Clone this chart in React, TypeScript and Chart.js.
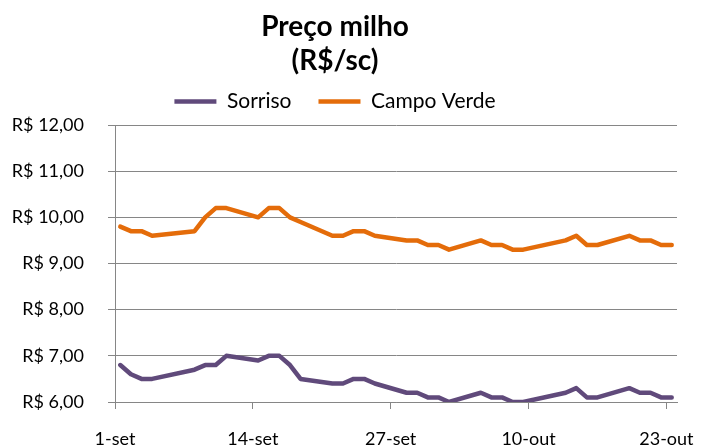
import React, { useEffect, useRef } from 'react';
import { Chart, registerables } from 'chart.js';

Chart.register(...registerables);

// ---- Data ----
const observationDates = [
  '2015-09-01', '2015-09-02', '2015-09-03', '2015-09-04',
  '2015-09-08', '2015-09-09', '2015-09-10', '2015-09-11',
  '2015-09-14', '2015-09-15', '2015-09-16', '2015-09-17', '2015-09-18',
  '2015-09-21', '2015-09-22', '2015-09-23', '2015-09-24', '2015-09-25',
  '2015-09-28', '2015-09-29', '2015-09-30', '2015-10-01', '2015-10-02',
  '2015-10-05', '2015-10-06', '2015-10-07', '2015-10-08', '2015-10-09',
  '2015-10-13', '2015-10-14', '2015-10-15', '2015-10-16',
  '2015-10-19', '2015-10-20', '2015-10-21', '2015-10-22', '2015-10-23',
];

const sorrisoValues = [
  6.8, 6.6, 6.5, 6.5,
  6.7, 6.8, 6.8, 7.0,
  6.9, 7.0, 7.0, 6.8, 6.5,
  6.4, 6.4, 6.5, 6.5, 6.4,
  6.2, 6.2, 6.1, 6.1, 6.0,
  6.2, 6.1, 6.1, 6.0, 6.0,
  6.2, 6.3, 6.1, 6.1,
  6.3, 6.2, 6.2, 6.1, 6.1,
];

const campoVerdeValues = [
  9.8, 9.7, 9.7, 9.6,
  9.7, 10.0, 10.2, 10.2,
  10.0, 10.2, 10.2, 10.0, 9.9,
  9.6, 9.6, 9.7, 9.7, 9.6,
  9.5, 9.5, 9.4, 9.4, 9.3,
  9.5, 9.4, 9.4, 9.3, 9.3,
  9.5, 9.6, 9.4, 9.4,
  9.6, 9.5, 9.5, 9.4, 9.4,
];

const seriesNames = ['Sorriso', 'Campo Verde'];
const axisStartDate = '2015-09-01';
const axisEndDate = '2015-10-23';
const xTickDates = ['2015-09-01', '2015-09-14', '2015-09-27', '2015-10-10', '2015-10-23'];
const xTickLabels = ['1-set', '14-set', '27-set', '10-out', '23-out'];
const yMin = 6;
const yMax = 12;
const yStep = 1;
const titleLines = ['Preço milho', '(R$/sc)'];

// ---- Helpers ----
const DAY = 86400000;
const dayIndex = (d: string) =>
  Math.round((Date.parse(d + 'T00:00:00Z') - Date.parse(axisStartDate + 'T00:00:00Z')) / DAY);

const tickDayIndices = xTickDates.map(dayIndex);
const axisDays = dayIndex(axisEndDate) + 1;

const toPoints = (vals: number[]) =>
  observationDates.map((d, i) => ({ x: dayIndex(d) + 0.5, y: vals[i] }));

const formatBRL = (v: number) => 'R$ ' + v.toFixed(2).replace('.', ',');

const PURPLE = '#604A7B';
const ORANGE = '#E46C0A';
const GRID = '#868686';
const FONT = 'Lato';

const boxShift = {
  id: 'boxShift',
  afterLayout(chart: any) {
    const center = 335;
    [chart.titleBlock, chart.legend].forEach((b: any) => {
      if (!b) return;
      b.right = center * 2 - b.left;
      b.width = b.right - b.left;
    });
    const l = chart.legend;
    if (l) {
      l.top -= 3;
      l.bottom -= 3;
    }
  },
};

export default function App() {
  const ref = useRef<HTMLCanvasElement | null>(null);

  useEffect(() => {
    if (!ref.current) return;
    const chart = new Chart(ref.current, {
      type: 'line',
      data: {
        datasets: [
          {
            label: seriesNames[0],
            data: toPoints(sorrisoValues),
            borderColor: PURPLE,
            backgroundColor: PURPLE,
            borderWidth: 4.5,
            pointRadius: 0,
            tension: 0,
            borderJoinStyle: 'round',
            borderCapStyle: 'round',
          },
          {
            label: seriesNames[1],
            data: toPoints(campoVerdeValues),
            borderColor: ORANGE,
            backgroundColor: ORANGE,
            borderWidth: 4.5,
            pointRadius: 0,
            tension: 0,
            borderJoinStyle: 'round',
            borderCapStyle: 'round',
          },
        ],
      },
      options: {
        animation: false,
        responsive: false,
        devicePixelRatio: 1,
        layout: { padding: { left: 0, right: 26, top: 0, bottom: 0 } },
        plugins: {
          title: {
            display: true,
            text: titleLines,
            color: '#000',
            font: { family: FONT, size: 28, weight: 'bold', lineHeight: '34px' },
            padding: { top: 10, bottom: -11 },
          },
          legend: {
            display: true,
            position: 'top',
            labels: {
              usePointStyle: true,
              pointStyle: 'line',
              pointStyleWidth: 42,
              color: '#000',
              font: { family: FONT, size: 21 },
              padding: 27,
            },
          },
          tooltip: { enabled: false },
        },
        scales: {
          x: {
            type: 'linear',
            min: 0,
            max: axisDays,
            afterBuildTicks: (scale: any) => {
              scale.ticks = tickDayIndices.map((v) => ({ value: v }));
            },
            afterFit: (scale: any) => {
              scale.height = 45;
              scale.paddingLeft = 0;
              scale.paddingRight = 0;
            },
            ticks: {
              autoSkip: false,
              maxRotation: 0,
              padding: 19,
              color: '#000',
              font: { family: FONT, size: 18 },
              callback: (v: any) => {
                const idx = tickDayIndices.indexOf(Number(v));
                return idx >= 0 ? xTickLabels[idx] : '';
              },
            },
            grid: {
              drawOnChartArea: false,
              drawTicks: true,
              tickLength: 7,
              color: GRID,
            },
            border: { display: true, color: GRID, width: 1 },
          },
          y: {
            type: 'linear',
            min: yMin,
            max: yMax,
            afterFit: (scale: any) => {
              scale.width = 115;
            },
            ticks: {
              stepSize: yStep,
              padding: 24,
              color: '#000',
              font: { family: FONT, size: 18 },
              callback: (v: any) => formatBRL(Number(v)),
            },
            grid: {
              color: GRID,
              lineWidth: 1,
              drawTicks: true,
              tickLength: 7,
            },
            border: { display: true, color: GRID, width: 1 },
          },
        },
      },
      plugins: [boxShift],
    });
    return () => chart.destroy();
  }, []);

  return (
    <div style={{ position: 'fixed', left: 0, top: 0, width: 703, height: 447, background: '#fff' }}>
      <canvas ref={ref} width={703} height={447} />
    </div>
  );
}
